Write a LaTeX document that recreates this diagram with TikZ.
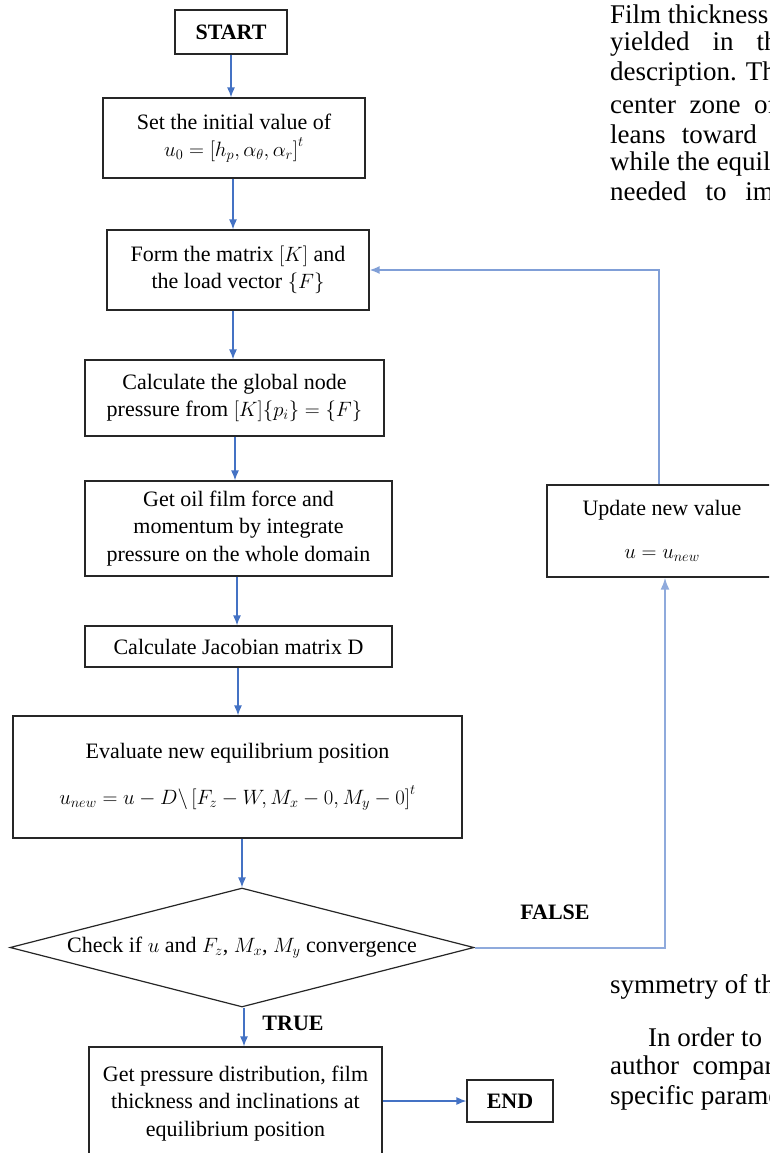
\documentclass[tikz,border=0pt]{standalone}
\usepackage{fontspec}
\setmainfont{Liberation Serif}
\usetikzlibrary{shapes.geometric,arrows.meta}
\definecolor{flowblue}{RGB}{68,114,196}
\definecolor{lightblue}{RGB}{143,170,220}
\tikzset{
  box/.style={draw=black!85, line width=1.2pt, align=center, inner sep=0pt,
    font=\fontsize{22}{27.5}\selectfont},
  lbl/.style={font=\fontsize{22}{27.5}\selectfont\bfseries},
  page/.style={anchor=west, inner sep=0pt, font=\fontsize{27}{30}\selectfont},
  flow/.style={draw=flowblue, line width=1.3pt, -{Latex[length=10pt,width=8pt]}},
  back/.style={draw=lightblue, line width=2pt, -{Latex[length=12pt,width=9pt]}},
}
\begin{document}
\begin{tikzpicture}[x=1pt,y=-1pt]
\clip (0,0) rectangle (769,1153);
\fill[white] (0,0) rectangle (769,1153);

% page text fragments (cut by the right edge as in the reference)
\node[page] (p1) at (610,14) {Film thickness};
\node[page] (p2) at (610,44) {yielded\hspace{0.85em}in\hspace{0.85em}the};
\node[page] (p3) at (610,74) {description. The};
\node[page] (p4) at (610,104) {center\hspace{0.5em}zone\hspace{0.5em}of};
\node[page] (p5) at (610,134) {leans\hspace{0.6em}toward\hspace{0.6em}the};
\node[page] (p6) at (610,164) {while the equilibrium};
\node[page] (p7) at (610,194) {needed\hspace{0.7em}to\hspace{0.7em}improve};
\node[page] (p8) at (610,987) {symmetry of the};
\node[page] (p9) at (648,1037) {In order to};
\node[page] (p10) at (610,1068) {author\hspace{0.5em}compared};
\node[page] (p11) at (610,1098) {specific parameters};

% flowchart nodes
\node[box, lbl, minimum width=112pt, minimum height=44pt] (start) at (231,32) {START};
\node[box, minimum width=262pt, minimum height=80pt] (set) at (234,138)
  {Set the initial value of\\ $u_0=\left[h_p,\alpha_\theta,\alpha_r\right]^t$};
\node[box, minimum width=262pt, minimum height=80pt] (form) at (238,270)
  {Form the matrix $[K]$ and\\ the load vector $\{F\}$};
\node[box, minimum width=299pt, minimum height=76pt] (calc) at (234.5,398)
  {Calculate the global node\\ pressure from $[K]\{p_i\}=\{F\}$};
\node[box, minimum width=307pt, minimum height=95pt] (oil) at (238.5,528.5)
  {Get oil film force and\\ momentum by integrate\\ pressure on the whole domain};
\node[box, minimum width=307pt, minimum height=41pt] (jac) at (238.5,646.5)
  {Calculate Jacobian matrix D};
\node[box, minimum width=449pt, minimum height=122pt] (eval) at (237.5,777)
  {Evaluate new equilibrium position\\[18pt]
   $u_{new}=u-D\backslash\left[F_z-W,M_x-0,M_y-0\right]^t$};
\node[box, diamond, aspect=3.9, minimum width=464pt, minimum height=119pt] (check) at (242,947.5)
  {Check if $u$ and $F_z$, $M_x$, $M_y$ convergence};
\node[box, minimum width=293pt, minimum height=113pt] (final) at (235.5,1103.5)
  {Get pressure distribution, film\\ thickness and inclinations at\\ equilibrium position};
\node[box, lbl, minimum width=86pt, minimum height=42pt] (end) at (510,1101) {END};
\node[box, minimum width=230pt, minimum height=92pt] (update) at (662,531)
  {Update new value\\[16pt] $u=u_{new}$};

\node[lbl] (false) at (555,912) {FALSE};
\node[lbl] (true) at (293,1023) {TRUE};

% connectors
\draw[flow] (start.south) -- (start.south |- set.north);
\draw[flow] ([xshift=-1pt]set.south) -- ([xshift=-1pt]set.south |- form.north);
\draw[flow] ([xshift=-5pt]form.south) -- ([xshift=-5pt]form.south |- calc.north);
\draw[flow] ([xshift=0.5pt]calc.south) -- ([xshift=0.5pt]calc.south |- oil.north);
\draw[flow] ([xshift=-1.5pt]oil.south) -- ([xshift=-1.5pt]oil.south |- jac.north);
\draw[flow] ([xshift=-0.5pt]jac.south) -- ([xshift=-0.5pt]jac.south |- eval.north);
\draw[flow] ([xshift=4.5pt]eval.south) -- ([xshift=4.5pt]eval.south |- check.north);
\draw[flow] ([xshift=2pt]check.south) -- ([xshift=2pt]check.south |- final.north);
\draw[flow] (final.east |- end.west) -- (end.west);
\coordinate (fx) at (665,947.5);
\draw[back] (check.east) -- (fx) -- (fx |- update.south);
\draw[flow, draw=lightblue!80!flowblue, line width=1.6pt] ([xshift=-3pt]update.north) |- (form.east);
\end{tikzpicture}
\end{document}
